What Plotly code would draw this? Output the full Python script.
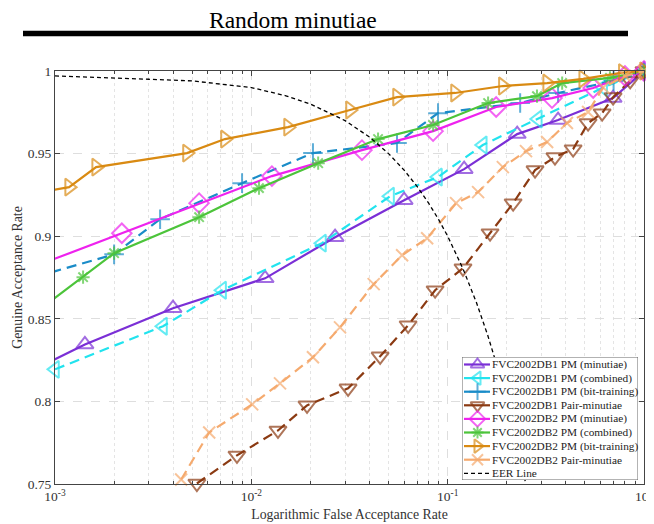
import plotly.graph_objects as go

# ---------------- data ----------------
series_names = [
    "FVC2002DB1 PM (minutiae)",
    "FVC2002DB1 PM (combined)",
    "FVC2002DB1 PM (bit-training)",
    "FVC2002DB1 Pair-minutiae",
    "FVC2002DB2 PM (minutiae)",
    "FVC2002DB2 PM (combined)",
    "FVC2002DB2 PM (bit-training)",
    "FVC2002DB2 Pair-minutiae",
]
eer_name = "EER Line"

far_db1_min = [0.0008, 0.00142, 0.00399, 0.01175, 0.0267, 0.060, 0.1213, 0.226, 0.365, 0.696, 1.0]
gar_db1_min = [0.8197, 0.8345, 0.8564, 0.8745, 0.8994, 0.9218, 0.9406, 0.9618, 0.9703, 0.9836, 1.0]

far_db1_comb = [0.001, 0.00355, 0.0071, 0.0229, 0.0509, 0.0893, 0.151, 0.288, 0.62, 1.0]
gar_db1_comb = [0.8194, 0.8455, 0.8673, 0.8958, 0.9242, 0.9358, 0.9552, 0.9709, 0.990, 1.0]

far_db1_bit = [0.0008, 0.002, 0.00343, 0.00897, 0.0206, 0.0552, 0.0893, 0.234, 0.365, 0.70, 1.0]
gar_db1_bit = [0.8755, 0.889, 0.9103, 0.9321, 0.9503, 0.9564, 0.9745, 0.9806, 0.9867, 0.994, 1.0]

far_db1_pair = [0.00528, 0.00845, 0.01367, 0.01922, 0.0311, 0.0453, 0.0629, 0.0863, 0.1197, 0.1644,
                0.2155, 0.2786, 0.352, 0.4355, 0.519, 0.612, 0.696, 0.85, 1.0]
gar_db1_pair = [0.7503, 0.7673, 0.7824, 0.7976, 0.8079, 0.8273, 0.8461, 0.8673, 0.8806, 0.9018,
                0.920, 0.940, 0.9479, 0.9527, 0.9685, 0.9745, 0.9842, 0.994, 1.0]

far_db2_min = [0.0008, 0.00219, 0.00542, 0.01273, 0.0366, 0.0843, 0.1766, 0.340, 0.551, 0.80, 1.0]
gar_db2_min = [0.882, 0.9018, 0.920, 0.9364, 0.9521, 0.9636, 0.9782, 0.9836, 0.9897, 0.997, 1.0]

far_db2_comb = [0.0008, 0.00139, 0.002, 0.00542, 0.01094, 0.0219, 0.0442, 0.0843, 0.1607, 0.285,
                0.383, 0.671, 1.0]
gar_db2_comb = [0.854, 0.8752, 0.8897, 0.9115, 0.9291, 0.9442, 0.9588, 0.9673, 0.9806, 0.9848,
                0.9927, 0.9958, 1.0]

far_db2_bit = [0.0008, 0.00118, 0.00162, 0.0047, 0.00734, 0.01538, 0.0318, 0.0552, 0.109, 0.191,
               0.321, 0.49, 0.78, 1.0]
gar_db2_bit = [0.926, 0.9297, 0.9418, 0.9503, 0.9588, 0.966, 0.9764, 0.9842, 0.9867, 0.9909,
               0.9927, 0.9952, 0.999, 1.0]

far_db2_pair = [0.00439, 0.0061, 0.0101, 0.014, 0.0206, 0.0283, 0.042, 0.0586, 0.0786, 0.1104,
                0.1429, 0.191, 0.2506, 0.321, 0.405, 0.519, 0.62, 0.80, 1.0]
gar_db2_pair = [0.7527, 0.7812, 0.7982, 0.8109, 0.8267, 0.8448, 0.871, 0.8885, 0.8988, 0.920,
                0.9267, 0.9418, 0.9515, 0.957, 0.9685, 0.9752, 0.990, 0.997, 1.0]

eer_far = [0.001, 0.002, 0.003, 0.005, 0.01, 0.015, 0.02, 0.03, 0.04, 0.05, 0.06, 0.07, 0.08,
           0.09, 0.1, 0.12, 0.14, 0.16, 0.18, 0.2, 0.22, 0.25]
eer_gar = [0.997, 0.996, 0.995, 0.994, 0.99, 0.985, 0.98, 0.97, 0.96, 0.95, 0.94, 0.93, 0.92,
           0.91, 0.90, 0.88, 0.86, 0.84, 0.82, 0.80, 0.78, 0.75]

x_tickvals = [0.001, 0.01, 0.1, 1]
x_ticktext = ["10<sup>-3</sup>", "10<sup>-2</sup>", "10<sup>-1</sup>", "10<sup>0</sup>"]
x_minor_vals = [m * d for d in (0.001, 0.01, 0.1) for m in range(2, 10)]
y_tickvals = [0.75, 0.8, 0.85, 0.9, 0.95, 1.0]
y_ticktext = ["0.75", "0.8", "0.85", "0.9", "0.95", "1"]

# ---------------- styles ----------------
series_x = [far_db1_min, far_db1_comb, far_db1_bit, far_db1_pair,
            far_db2_min, far_db2_comb, far_db2_bit, far_db2_pair]
series_y = [gar_db1_min, gar_db1_comb, gar_db1_bit, gar_db1_pair,
            gar_db2_min, gar_db2_comb, gar_db2_bit, gar_db2_pair]
colors = ["#7B2FD6", "#22E3EE", "#1A8CC8", "#8B3A12",
          "#EE22EE", "#4CC43A", "#D98A12", "#F5AA6E"]
symbols = ["triangle-up-open", "triangle-left-open", "cross-thin-open", "triangle-down-open",
           "diamond-open", "asterisk-open", "triangle-right-open", "x-thin-open"]
msizes = [15, 15, 14, 15, 15, 11, 15, 12]
dashes = ["solid", "10px,6px", "10px,6px", "10px,6px",
          "solid", "solid", "solid", "10px,6px"]

SERIF = "Liberation Serif, Times New Roman, serif"

# The page body has an 8px default margin: the figure is drawn from (8, 8).
OFF = 8
W, H = 654 - OFF, 524 - OFF
ML, MR, MT, MB = 55 - OFF, 10, 71 - OFF, 40
PW, PH = W - ML - MR, H - MT - MB


def px_x(px):  # page pixel -> paper x
    return (px - OFF - ML) / PW


def px_y(py):  # page pixel -> paper y
    return (H - MB - (py - OFF)) / PH


fig = go.Figure()
for name, xs, ys, c, s, ms, d in zip(series_names, series_x, series_y, colors, symbols, msizes, dashes):
    sizes = [ms if x >= 0.001 else 0 for x in xs]
    fig.add_trace(go.Scatter(
        x=xs, y=ys, name=name, mode="lines+markers", showlegend=False,
        line=dict(color=c, width=2.2, dash=d),
        marker=dict(symbol=s, size=sizes, color=c, line=dict(color=c, width=2)),
        cliponaxis=False,
    ))

fig.add_trace(go.Scatter(
    x=eer_far, y=eer_gar, name=eer_name, mode="lines", showlegend=False,
    line=dict(color="black", width=1.3, dash="4px,3px"),
))

# ---------------- compact legend (own small subplot, pixel units) ----------------
LEG_L, LEG_R, LEG_T, LEG_B = 462, 638, 357, 480     # legend box in page pixels
LW, LH = LEG_R - LEG_L, LEG_B - LEG_T
ROW, PAD_T = 13.6, 7.5
leg_names = series_names + [eer_name]
leg_colors = colors + ["black"]
leg_symbols = symbols + [None]
leg_dashes = dashes + ["4px,3px"]
leg_msizes = [12, 12, 12, 12, 12, 10, 12, 11, 0]

leg_shapes = [dict(type="rect", xref="x2", yref="y2", layer="below",
                   x0=0, x1=LW, y0=0, y1=LH,
                   fillcolor="white", line=dict(color="#666", width=1))]
leg_annots = []
for i, (nm, c, s, d, ms) in enumerate(zip(leg_names, leg_colors, leg_symbols, leg_dashes, leg_msizes)):
    yc = LH - PAD_T - ROW * i
    if s is None:
        fig.add_trace(go.Scatter(x=[2, 28], y=[yc, yc], mode="lines", showlegend=False,
                                 xaxis="x2", yaxis="y2", hoverinfo="skip",
                                 line=dict(color=c, width=1.3, dash=d)))
    else:
        fig.add_trace(go.Scatter(x=[2, 15.5, 28], y=[yc, yc, yc], mode="lines+markers",
                                 showlegend=False, xaxis="x2", yaxis="y2", hoverinfo="skip",
                                 line=dict(color=c, width=2.2, dash="solid"),
                                 marker=dict(symbol=s, size=[0, ms, 0], color=c,
                                             line=dict(color=c, width=2))))
    leg_annots.append(dict(text=nm, xref="x2", yref="y2", x=27.5, y=yc,
                           xanchor="left", yanchor="middle", showarrow=False,
                           font=dict(family=SERIF, size=11.3, color="#222")))

axis_common = dict(
    showline=True, linecolor="#444", linewidth=1, mirror="ticks",
    ticks="inside", ticklen=5, tickcolor="#444",
    showgrid=True, gridcolor="#dedede", griddash="dash", gridwidth=1,
    zeroline=False, automargin=False,
    tickfont=dict(family=SERIF, size=13.5, color="#333"),
)

fig.update_layout(
    xaxis=dict(
        type="log", range=[-3, 0],
        tickmode="array", tickvals=x_tickvals, ticktext=x_ticktext,
        minor=dict(tickmode="array", tickvals=x_minor_vals, ticks="inside", ticklen=3,
                   tickcolor="#444", showgrid=True, gridcolor="#e4e4e4", griddash="dot"),
        title=dict(text="Logarithmic False Acceptance Rate",
                   font=dict(family=SERIF, size=13.8, color="#333"), standoff=6),
        **axis_common,
    ),
    yaxis=dict(
        range=[0.75, 1.0],
        tickmode="array", tickvals=y_tickvals, ticktext=y_ticktext,
        title=dict(text="Genuine Acceptance Rate",
                   font=dict(family=SERIF, size=13.8, color="#333"), standoff=1),
        **axis_common,
    ),
    xaxis2=dict(domain=[px_x(LEG_L), px_x(LEG_R)], range=[0, LW],
                anchor="y2", visible=False, fixedrange=True),
    yaxis2=dict(domain=[px_y(LEG_B), px_y(LEG_T)], range=[0, LH],
                anchor="x2", visible=False, fixedrange=True),
)

fig.update_layout(
    width=W, height=H,
    margin=dict(l=ML, r=MR, t=MT, b=MB, autoexpand=False),
    paper_bgcolor="white", plot_bgcolor="white",
    showlegend=False,
    annotations=[dict(
        text="Random minutiae", xref="paper", yref="paper",
        x=px_x(292.5), y=px_y(20), xanchor="center", yanchor="middle",
        showarrow=False, font=dict(family=SERIF, size=23.5, color="black"),
    )] + leg_annots,
    shapes=[dict(
        type="line", xref="paper", yref="paper",
        x0=px_x(23), x1=px_x(628), y0=px_y(33.5), y1=px_y(33.5),
        line=dict(color="black", width=5.5),
    )] + leg_shapes,
)

fig.write_html("out.html")
